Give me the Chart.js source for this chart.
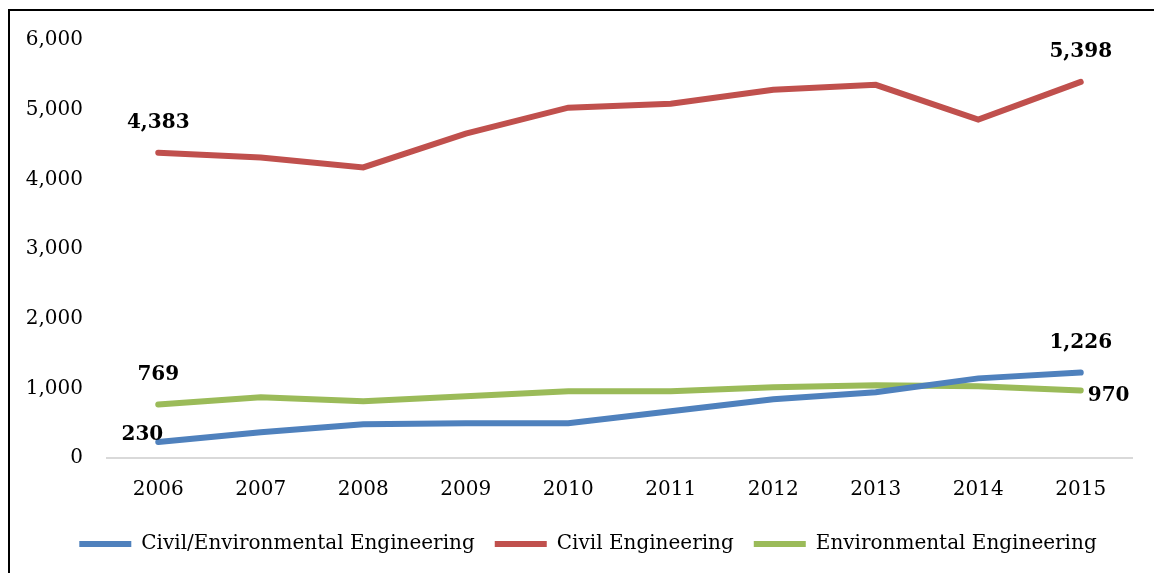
<!DOCTYPE html>
<html>
<head>
<meta charset="utf-8">
<script src="https://cdn.jsdelivr.net/npm/chart.js@4/dist/chart.umd.min.js"></script>
<style>
  html, body { margin: 0; padding: 0; background: #fff; }
  #frame { position: absolute; left: 8px; top: 9px; width: 1170px; height: 600px; border: 2px solid #000; }
  #wrap { position: absolute; left: 0; top: 0; width: 1154px; height: 573px; }
</style>
</head>
<body>
<div id="frame"></div>
<div id="wrap"><canvas id="chart"></canvas></div>
<script>
// Data
const years = ['2006', '2007', '2008', '2009', '2010', '2011', '2012', '2013', '2014', '2015'];
const civilEnv = [230, 371, 486, 500, 500, 671, 843, 943, 1143, 1226];
const civil = [4383, 4314, 4171, 4657, 5029, 5086, 5286, 5357, 4857, 5398];
const env = [769, 871, 814, 886, 957, 957, 1014, 1043, 1029, 970];

const FONT = "'DejaVu Serif', serif";

// where the first / last value labels go, one pair per series
const labelPlaces = [['left', 'above'], ['above', 'above'], ['above', 'right']];

const endLabels = {
    id: 'endLabels',
    afterDatasetsDraw(chart) {
        const ctx = chart.ctx;
        ctx.save();
        ctx.font = 'bold 20px ' + FONT;
        ctx.fillStyle = '#000';
        ctx.textBaseline = 'middle';
        chart.data.datasets.forEach((ds, d) => {
            const meta = chart.getDatasetMeta(d);
            const idx = [0, ds.data.length - 1];
            idx.forEach((i, k) => {
                const pt = meta.data[i];
                const txt = ds.data[i].toLocaleString('en-US');
                const place = labelPlaces[d][k];
                if (place == 'above') {
                    ctx.textAlign = 'center';
                    ctx.fillText(txt, pt.x, pt.y - 30);
                } else if (place == 'left') {
                    ctx.textAlign = 'right';
                    ctx.fillText(txt, pt.x + 5, pt.y - 7);
                } else {
                    ctx.textAlign = 'left';
                    ctx.fillText(txt, pt.x + 7, pt.y + 5);
                }
            });
        });
        ctx.restore();
    }
};

// legend in the original sits a bit right of the canvas centre
const legendNudge = {
    id: 'legendNudge',
    afterLayout(chart) {
        chart.legend.left += 22;
        chart.legend.right += 22;
    }
};

function lineSet(label, data, color) {
    return {
        label: label,
        data: data,
        borderColor: color,
        backgroundColor: color,
        borderWidth: 6,
        borderCapStyle: 'round',
        tension: 0,
        pointRadius: 0,
        fill: false
    };
}

new Chart(document.getElementById('chart'), {
    type: 'line',
    data: {
        labels: years,
        datasets: [
            lineSet('Civil/Environmental Engineering', civilEnv, '#4F81BD'),
            lineSet('Civil Engineering', civil, '#C0504D'),
            lineSet('Environmental Engineering', env, '#9BBB59')
        ]
    },
    options: {
        responsive: true,
        maintainAspectRatio: false,
        animation: false,
        layout: { padding: { left: 0, right: 22, top: 40, bottom: 9 } },
        plugins: {
            tooltip: { enabled: false },
            legend: {
                position: 'bottom',
                labels: {
                    color: '#000',
                    font: { family: FONT, size: 20 },
                    usePointStyle: true,
                    pointStyle: 'line',
                    pointStyleWidth: 52,
                    boxHeight: 6,
                    padding: 20
                }
            }
        },
        scales: {
            x: {
                offset: true,
                grid: { display: false },
                border: { color: '#d9d9d9', width: 2 },
                ticks: { color: '#000', font: { family: FONT, size: 20 }, padding: 12 }
            },
            y: {
                min: 0,
                max: 6000,
                grid: { display: false, drawTicks: false },
                border: { display: false },
                ticks: { stepSize: 1000, color: '#000', font: { family: FONT, size: 20 }, padding: 24 },
                afterFit(scale) { scale.width = 107; }
            }
        }
    },
    plugins: [endLabels, legendNudge]
});
</script>
</body>
</html>
